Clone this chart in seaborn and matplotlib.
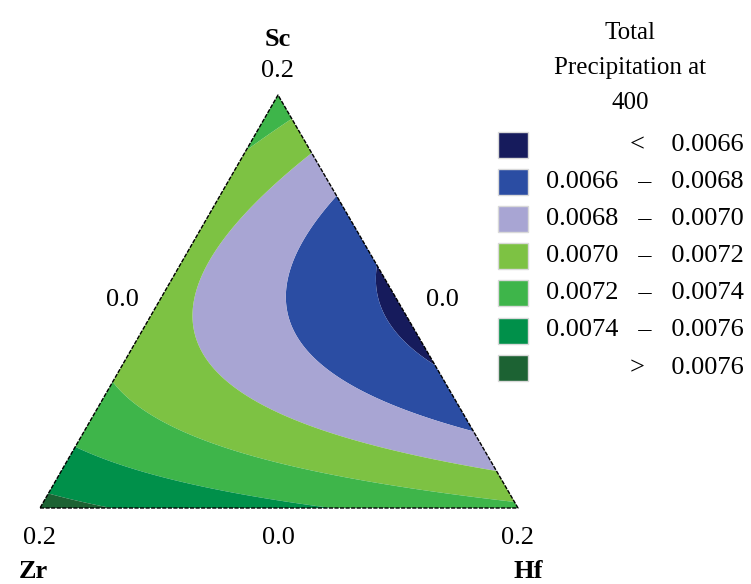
import numpy as np
import matplotlib
matplotlib.use("Agg")
import matplotlib.pyplot as plt
import matplotlib.tri as mtri
import seaborn as sns

# ---------------- data ----------------
components = ["Sc", "Hf", "Zr"]          # top, right, left vertices
vertex_ticks = ["0.2", "0.2", "0.2"]
edge_ticks = ["0.0", "0.0", "0.0"]       # left edge, right edge, bottom edge
legend_title = ["Total", "Precipitation at", "400"]

level_bounds = [0.0066, 0.0068, 0.0070, 0.0072, 0.0074, 0.0076]
band_colors = ["#161B5C", "#2B4DA3", "#A8A5D3", "#7DC243",
               "#3EB54A", "#00904A", "#1C6233"]

# response read at positions in the triangle (Sc fraction, Hf fraction)
sc_frac = [1.0, 0.0, 0.0,
           0.024, 0.143, 0.315, 0.52, 0.855,
           0.935, 0.855, 0.758, 0.596, 0.47, 0.351, 0.189, 0.087, 0.024,
           0.0, 0.0,
           0.528, 0.504, 0.182, 0.165, 0.065, 0.165, 0.274, 0.157,
           0.063, 0.666, 0.625, 0.303, 0.206, 0.528, 0.896]
hf_frac = [0.0, 1.0, 0.0,
           0.0, 0.0, 0.0, 0.0, 0.0,
           0.065, 0.145, 0.242, 0.404, 0.53, 0.649, 0.811, 0.913, 0.976,
           0.12, 0.60,
           0.254, 0.077, 0.223, 0.267, 0.28, 0.587, 0.554, 0.612,
           0.659, 0.045, 0.227, 0.49, 0.42, 0.438, 0.031]
precip = [0.00733, 0.00722, 0.00770,
          0.0076, 0.0074, 0.0072, 0.00707, 0.0072,
          0.0072, 0.0070, 0.0068, 0.0066, 0.00655, 0.0066, 0.0068, 0.0070, 0.0072,
          0.0076, 0.0074,
          0.0068, 0.0070, 0.0072, 0.0072, 0.0074, 0.0070, 0.0068, 0.0070,
          0.0072, 0.0070, 0.0068, 0.0068, 0.0070, 0.0066, 0.0072]

# ---------------- response surface (Scheffe cubic mixture model) ----------------
def basis(a, b):
    c = 1.0 - a - b
    return np.column_stack([a, b, c, a * b, a * c, b * c,
                            a * b * (a - b), a * c * (a - c), b * c * (b - c),
                            a * b * c])

A = np.asarray(sc_frac, float)
B = np.asarray(hf_frac, float)
Y = np.asarray(precip, float)
coef, *_ = np.linalg.lstsq(basis(A, B), Y, rcond=None)

n = 160
ga, gb = [], []
for i in range(n + 1):
    for j in range(n + 1 - i):
        ga.append(i / n)
        gb.append(j / n)
ga = np.array(ga)
gb = np.array(gb)
gz = basis(ga, gb) @ coef

# layout of the triangle in figure pixels
L = np.array([40.0, 508.0])
R = np.array([518.0, 508.0])
T = np.array([278.0, 95.0])


def to_xy(a, b):
    c = 1.0 - a - b
    x = a * T[0] + b * R[0] + c * L[0]
    y = a * T[1] + b * R[1] + c * L[1]
    return x, y


gx, gy = to_xy(ga, gb)

# ---------------- drawing ----------------
sns.set_theme(style="white")
plt.rcParams["font.family"] = ["Liberation Serif", "DejaVu Serif"]
plt.rcParams["text.color"] = "black"
palette = sns.color_palette(band_colors)

fig = plt.figure(figsize=(7.51, 5.84), dpi=100)
ax = fig.add_axes([0, 0, 1, 1])
ax.set_xlim(0, 751)
ax.set_ylim(584, 0)
ax.axis("off")

tri = mtri.Triangulation(gx, gy)
levels = [-1.0] + level_bounds + [1.0]
ax.tricontourf(tri, gz, levels=levels, colors=palette, antialiased=True)

# triangle outline
tx = [L[0], R[0], T[0], L[0]]
ty = [L[1], R[1], T[1], L[1]]
ax.plot(tx, ty, color="black", lw=1.0, ls=(0, (3, 1)))

fs = 19
# vertex labels
ax.text(T[0], 39, components[0], ha="center", va="center", fontsize=fs, fontweight="bold")
ax.text(T[0], 71, vertex_ticks[0], ha="center", va="center", fontsize=fs)
ax.text(L[0], 538, vertex_ticks[2], ha="center", va="center", fontsize=fs)
ax.text(R[0], 538, vertex_ticks[1], ha="center", va="center", fontsize=fs)
ax.text(33, 571, components[2], ha="center", va="center", fontsize=fs, fontweight="bold")
ax.text(528, 571, components[1], ha="center", va="center", fontsize=fs, fontweight="bold")
# edge mid ticks
ax.text(122, 300, edge_ticks[0], ha="center", va="center", fontsize=fs)
ax.text(442, 300, edge_ticks[1], ha="center", va="center", fontsize=fs)
ax.text(T[0], 538, edge_ticks[2], ha="center", va="center", fontsize=fs)

# legend
for k, line in enumerate(legend_title):
    ax.text(630, 33 + 35 * k, line, ha="center", va="center", fontsize=18)
labels = ["<    %.4f" % level_bounds[0]]
for lo, hi in zip(level_bounds[:-1], level_bounds[1:]):
    labels.append("%.4f   \u2013   %.4f" % (lo, hi))
labels.append(">    %.4f" % level_bounds[-1])
y0, dy = 145, 37.1
for k, (lab, col) in enumerate(zip(labels, palette)):
    yc = y0 + k * dy
    ax.add_patch(plt.Rectangle((498, yc - 13), 30, 26, facecolor=col,
                               edgecolor="#d9d9d9", lw=1.0))
    ax.text(744, yc, lab, ha="right", va="center", fontsize=fs)

fig.savefig("out.png", dpi=100)
